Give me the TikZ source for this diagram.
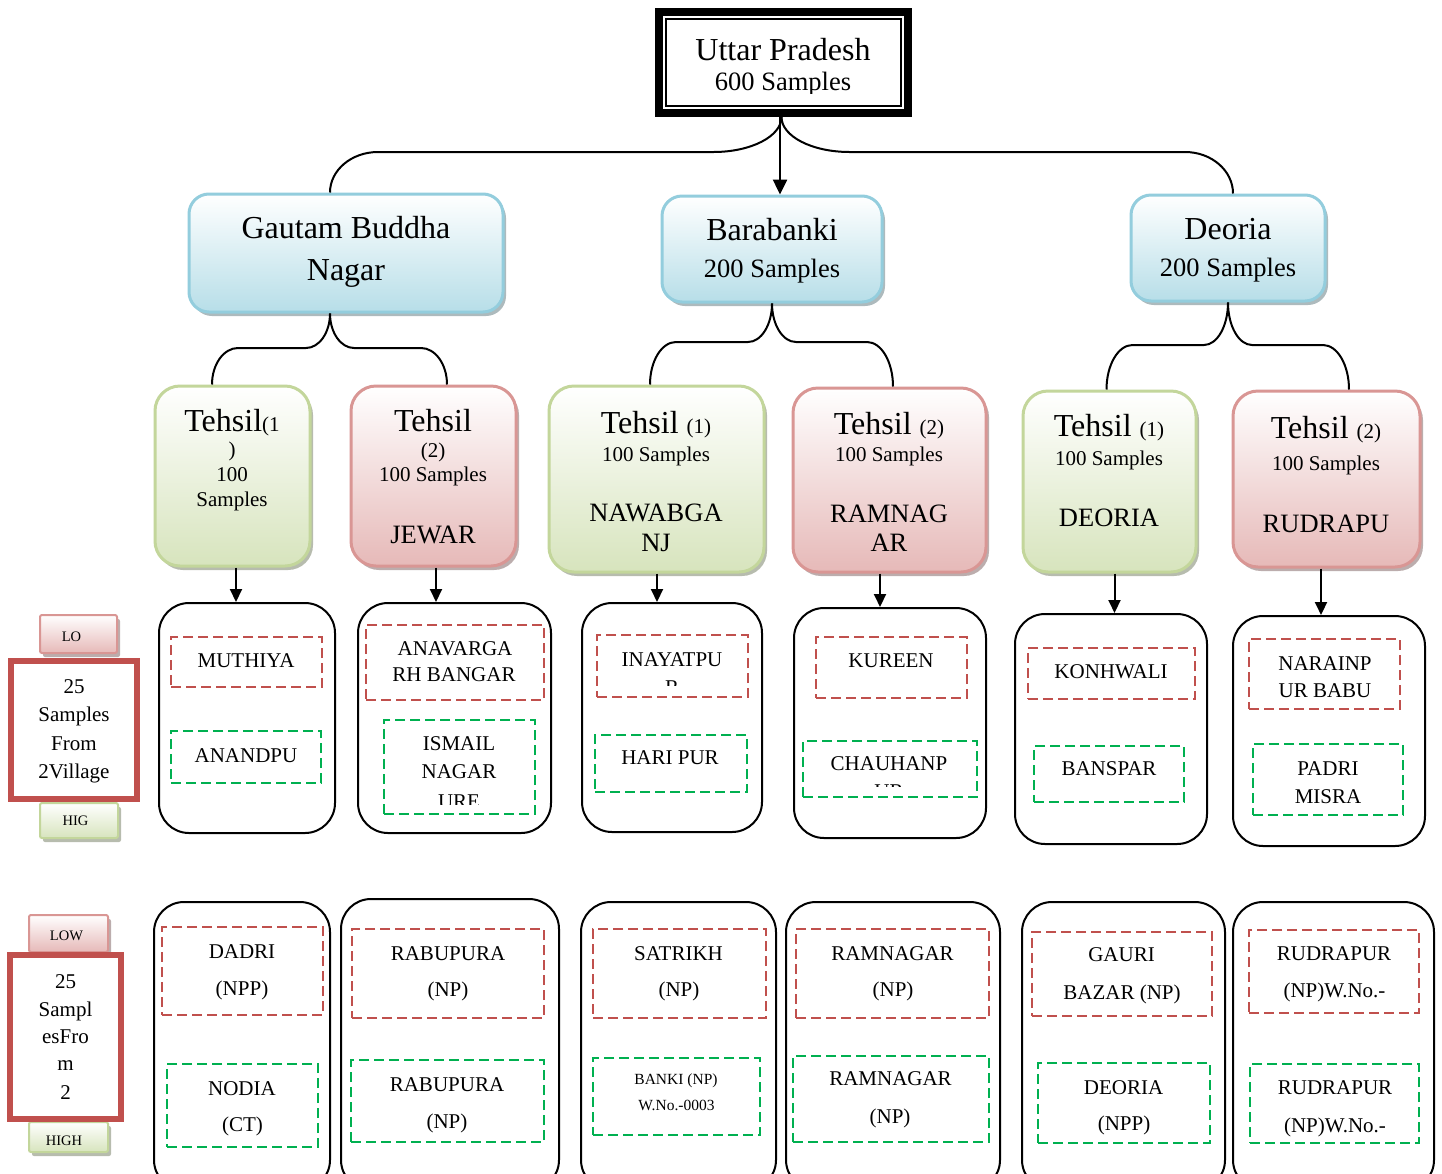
\documentclass[tikz,border=0pt]{standalone}
\usepackage{fontspec}
\setmainfont{Liberation Serif}
\usetikzlibrary{calc,shadows,arrows.meta}
\newcommand\fsBig{\fontsize{32}{36}\selectfont}
\newcommand\fsMid{\fontsize{26.5}{30}\selectfont}
\newcommand\fsSm{\fontsize{21}{25}\selectfont}
\newcommand\fsBk{\fontsize{15.5}{18}\selectfont}
\newcommand\fsXs{\fontsize{14.5}{17}\selectfont}
\definecolor{blbd}{HTML}{93CDDD}
\definecolor{blfill}{HTML}{B7DEE8}
\definecolor{grbd}{HTML}{C3D69B}
\definecolor{grfill}{HTML}{D7E4BD}
\definecolor{rdbd}{HTML}{D99694}
\definecolor{rdfill}{HTML}{E6B9B8}
\definecolor{rdash}{HTML}{C0504D}
\definecolor{gdash}{HTML}{00B050}
\definecolor{frame}{HTML}{C0504D}
\newcommand\mkbox[6]{\node[#2, minimum width={#5-#3}, minimum height={#6-#4}] (#1) at ({(#3+#5)/2},{(#4+#6)/2}) {};}
\newcommand\mktext[5]{\node[txt,font=#2] (#1) at (#3,#4) {#5};}
\newcommand\brkt[5]{%
  \coordinate (bkCa) at (#1 |- #3);
  \coordinate (bkEa) at ($(bkCa)+(#4,0)$);
  \coordinate (bkCb) at (#2 |- #3);
  \coordinate (bkSb) at ($(bkCb)+(#5,0)$);
  \draw[brk] (#1) .. controls ($(#1)!0.552!(bkCa)$) and ($(bkEa)!0.552!(bkCa)$) .. (bkEa)
     -- (bkSb) .. controls ($(bkSb)!0.552!(bkCb)$) and ($(#2)!0.552!(bkCb)$) .. (#2);}
\begin{document}
\begin{tikzpicture}[x=1pt,y=-1pt,
  txt/.style={anchor=base, inner sep=0pt, outer sep=0pt},
  topo/.style={draw=black, line width=8pt, fill=white},
  topi/.style={draw=black, line width=2pt},
  blk/.style={draw=black, line width=2pt, rounded corners=30pt, fill=white},
  rd/.style={draw=rdash, line width=2.8pt, dash pattern=on 10pt off 5pt},
  gd/.style={draw=gdash, line width=2.8pt, dash pattern=on 10pt off 5pt},
  blbox/.style={draw=blbd, line width=3pt, rounded corners=20pt, top color=white, bottom color=blfill,
     drop shadow={shadow xshift=3pt, shadow yshift=-4pt, fill=blbd!50!black, opacity=0.45}},
  grbox/.style={draw=grbd, line width=3pt, rounded corners=25pt, top color=white, bottom color=grfill,
     drop shadow={shadow xshift=3pt, shadow yshift=-4pt, fill=grbd!50!black, opacity=0.45}},
  rdbox/.style={draw=rdbd, line width=3pt, rounded corners=25pt, top color=white, bottom color=rdfill,
     drop shadow={shadow xshift=3pt, shadow yshift=-4pt, fill=rdbd!50!black, opacity=0.45}},
  lgr/.style={draw=grbd, line width=2pt, rounded corners=2pt, top color=white, bottom color=grfill,
     drop shadow={shadow xshift=3pt, shadow yshift=-4pt, fill=grbd!50!black, opacity=0.45}},
  lrd/.style={draw=rdbd, line width=2pt, rounded corners=2pt, top color=white, bottom color=rdfill,
     drop shadow={shadow xshift=3pt, shadow yshift=-4pt, fill=rdbd!50!black, opacity=0.45}},
  frm/.style={draw=frame, line width=6.5pt, fill=white},
  brk/.style={draw=black, line width=2pt},
  arr/.style={draw=black, line width=2pt, -{Triangle[length=13pt,width=12pt]}}
]
\path[use as bounding box, fill=white] (0,0) rectangle (1442,1173);
\clip (0,0) rectangle (1442,1173);

% ---------- top ----------
\mkbox{top}{topo}{659}{12}{908}{113}
\mkbox{topin}{topi}{666}{19}{901}{106}
\mktext{ta1}{\fsBig}{783}{60}{Uttar Pradesh}
\begin{scope}
\clip (666,19) rectangle (901,93.5);
\mktext{ta2}{\fsMid}{783}{90.7}{600 Samples}
\end{scope}

% ---------- districts ----------
\mkbox{gbn}{blbox}{189}{194}{503}{312}
\mkbox{bar}{blbox}{662}{196}{882}{302}
\mkbox{deo}{blbox}{1131}{195}{1325}{301}
\mktext{tb1}{\fsBig}{346}{238.3}{Gautam Buddha}
\mktext{tb2}{\fsBig}{346}{280}{Nagar}
\mktext{tb3}{\fsBig}{772}{240}{Barabanki}
\mktext{tb4}{\fsMid}{772}{277.5}{200 Samples}
\mktext{tb5}{\fsBig}{1228}{239}{Deoria}
\mktext{tb6}{\fsMid}{1228}{276}{200 Samples}

% ---------- tehsils ----------
\mkbox{t1}{grbox}{155}{386}{310}{566}
\mkbox{t2}{rdbox}{351}{386}{516}{566}
\mkbox{t3}{grbox}{549}{386}{764}{572}
\mkbox{t4}{rdbox}{793}{388}{986}{572}
\mkbox{t5}{grbox}{1023}{391}{1196}{572}
\mkbox{t6}{rdbox}{1233}{391}{1420}{567}

\mktext{tc1}{\fsBig}{232}{431.7}{Tehsil{\fsSm(1}}
\mktext{tc2}{\fsSm}{232}{456}{)}
\mktext{tc3}{\fsSm}{232}{481.7}{100}
\mktext{tc4}{\fsSm}{232}{506.7}{Samples}

\mktext{td1}{\fsBig}{433}{431.7}{Tehsil}
\mktext{td2}{\fsSm}{433}{457}{(2)}
\mktext{td3}{\fsSm}{433}{481.7}{100 Samples}
\mktext{td4}{\fsMid}{433}{543}{JEWAR}

\mktext{te1}{\fsBig}{656}{433.3}{Tehsil {\fsSm(1)}}
\mktext{te2}{\fsSm}{656}{461}{100 Samples}
\mktext{te3}{\fsMid}{656}{521.7}{NAWABGA}
\mktext{te4}{\fsMid}{656}{551.7}{NJ}

\mktext{tf1}{\fsBig}{889}{434.3}{Tehsil {\fsSm(2)}}
\mktext{tf2}{\fsSm}{889}{461.7}{100 Samples}
\mktext{tf3}{\fsMid}{889}{522.7}{RAMNAG}
\mktext{tf4}{\fsMid}{889}{551.7}{AR}

\mktext{tg1}{\fsBig}{1109}{436.7}{Tehsil {\fsSm(1)}}
\mktext{tg2}{\fsSm}{1109}{465}{100 Samples}
\mktext{tg3}{\fsMid}{1109}{526.7}{DEORIA}

\mktext{th1}{\fsBig}{1326}{438.3}{Tehsil {\fsSm(2)}}
\mktext{th2}{\fsSm}{1326}{470.7}{100 Samples}
\mktext{th3}{\fsMid}{1326}{532.7}{RUDRAPU}

% ---------- connectors top ----------
\coordinate (h0) at (0,152);
\coordinate (gIn) at ($(gbn.north)+(-16,0)$);
\coordinate (dIn) at ($(deo.north)+(5,0)$);
\coordinate (tOut) at ($(top.south)+(-2,0)$);
\brkt{tOut}{gIn}{h0}{-68}{48}
\brkt{tOut}{dIn}{h0}{68}{-48}
\coordinate (tArr) at ($(top.south)+(-3.5,0)$);
\draw[arr, line width=2.5pt, -{Triangle[length=15pt,width=14pt]}] (tArr) -- (tArr |- bar.north);

% ---------- connectors level 2 ----------
\coordinate (h1) at (0,348);
\coordinate (h2) at (0,342);
\coordinate (h3) at (0,345);
\coordinate (gOut) at ($(gbn.south)+(-16,0)$);
\coordinate (bOut) at (bar.south);
\coordinate (dOut) at (deo.south);
\coordinate (c1) at ($(t1.north)+(-20.5,0)$);
\coordinate (c2) at ($(t2.north)+(13.5,0)$);
\coordinate (c3) at ($(t3.north)+(-6.5,0)$);
\coordinate (c4) at ($(t4.north)+(3.5,0)$);
\coordinate (c5) at ($(t5.north)+(-3,0)$);
\coordinate (c6) at ($(t6.north)+(22.5,0)$);
\brkt{gOut}{c1}{h1}{-24}{26}
\brkt{gOut}{c2}{h1}{24}{-26}
\brkt{bOut}{c3}{h2}{-24}{26}
\brkt{bOut}{c4}{h2}{24}{-26}
\brkt{dOut}{c5}{h3}{-24}{26}
\brkt{dOut}{c6}{h3}{24}{-26}

% ---------- village boxes row 1 ----------
\mkbox{v1}{blk}{159}{603}{335}{833}
\mkbox{v2}{blk}{358}{603}{551}{833}
\mkbox{v3}{blk}{582}{603}{762}{832}
\mkbox{v4}{blk}{794}{608}{986}{838}
\mkbox{v5}{blk}{1015}{614}{1207}{844}
\mkbox{v6}{blk}{1233}{616}{1425}{846}

\coordinate (a1) at ($(t1.south)+(3.5,0)$);
\coordinate (a2) at ($(t2.south)+(2.5,0)$);
\coordinate (a3) at ($(t3.south)+(0.5,0)$);
\coordinate (a4) at ($(t4.south)+(-9.5,0)$);
\coordinate (a5) at ($(t5.south)+(5,0)$);
\coordinate (a6) at ($(t6.south)+(-5.5,0)$);
\draw[arr] (a1) -- (a1 |- v1.north);
\draw[arr] (a2) -- (a2 |- v2.north);
\draw[arr] (a3) -- (a3 |- v3.north);
\draw[arr] (a4) -- (a4 |- v4.north);
\draw[arr] (a5) -- (a5 |- v5.north);
\draw[arr] (a6) -- (a6 |- v6.north);

\mkbox{r1}{rd}{171}{637}{322}{687}
\mkbox{g1}{gd}{171}{731}{321}{783}
\mkbox{r2}{rd}{366}{625}{544}{700}
\mkbox{g2}{gd}{384}{720}{535}{814}
\mkbox{r3}{rd}{597}{635}{748}{697}
\mkbox{g3}{gd}{595}{735}{747}{792}
\mkbox{r4}{rd}{816}{637}{967}{698}
\mkbox{g4}{gd}{803}{741}{977}{797}
\mkbox{r5}{rd}{1028}{648}{1195}{699}
\mkbox{g5}{gd}{1034}{746}{1184}{802}
\mkbox{r6}{rd}{1249}{639}{1400}{709}
\mkbox{g6}{gd}{1253}{744}{1403}{815}

\mktext{x1}{\fsSm}{246}{667}{MUTHIYA}
\mktext{x2}{\fsSm}{246}{762}{ANANDPU}
\mktext{x3}{\fsSm}{455}{655}{ANAVARGA}
\mktext{x4}{\fsSm}{454}{681.7}{RH BANGAR}
\mktext{x5}{\fsSm}{459}{750}{ISMAIL}
\mktext{x6}{\fsSm}{459}{778.3}{NAGAR}
\begin{scope}
\clip (384,720) rectangle (535,804);
\mktext{x7}{\fsSm}{459}{808}{URE}
\end{scope}
\mktext{x8}{\fsSm}{672}{666.7}{INAYATPU}
\begin{scope}
\clip (597,635) rectangle (748,685);
\mktext{x9}{\fsSm}{672}{694}{R}
\end{scope}
\mktext{x10}{\fsSm}{670}{764.3}{HARI PUR}
\mktext{x11}{\fsSm}{891}{667.7}{KUREEN}
\mktext{x12}{\fsSm}{889}{770.7}{CHAUHANP}
\begin{scope}
\clip (803,741) rectangle (977,786);
\mktext{x13}{\fsSm}{889}{798}{UR}
\end{scope}
\mktext{x14}{\fsSm}{1111}{678.3}{KONHWALI}
\mktext{x15}{\fsSm}{1109}{775.7}{BANSPAR}
\mktext{x16}{\fsSm}{1325}{670}{NARAINP}
\mktext{x17}{\fsSm}{1325}{697}{UR BABU}
\mktext{x18}{\fsSm}{1328}{775}{PADRI}
\mktext{x19}{\fsSm}{1328}{803}{MISRA}

% ---------- village boxes row 2 ----------
\mkbox{w1}{blk}{154}{902}{330}{1190}
\mkbox{w2}{blk}{341}{899}{559}{1190}
\mkbox{w3}{blk}{581}{902}{776}{1190}
\mkbox{w4}{blk}{786}{902}{1000}{1190}
\mkbox{w5}{blk}{1022}{902}{1225}{1190}
\mkbox{w6}{blk}{1233}{902}{1434}{1190}

\mkbox{q1}{rd}{162}{927}{323}{1015}
\mkbox{s1}{gd}{167}{1064}{318}{1147}
\mkbox{q2}{rd}{352}{929}{544}{1018}
\mkbox{s2}{gd}{351}{1060}{544}{1142}
\mkbox{q3}{rd}{593}{929}{766}{1018}
\mkbox{s3}{gd}{593}{1058}{760}{1135}
\mkbox{q4}{rd}{796}{929}{989}{1018}
\mkbox{s4}{gd}{793}{1056}{989}{1142}
\mkbox{q5}{rd}{1032}{932}{1212}{1016}
\mkbox{s5}{gd}{1038}{1063}{1210}{1143}
\mkbox{q6}{rd}{1249}{930}{1419}{1013}
\mkbox{s6}{gd}{1250}{1064}{1419}{1143}

\mktext{y1}{\fsSm}{242}{958.3}{DADRI}
\mktext{y2}{\fsSm}{242}{995}{(NPP)}
\mktext{y3}{\fsSm}{242}{1095}{NODIA}
\mktext{y4}{\fsSm}{242.5}{1131.7}{(CT)}
\mktext{y5}{\fsSm}{448}{960}{RABUPURA}
\mktext{y6}{\fsSm}{448}{996.7}{(NP)}
\mktext{y7}{\fsSm}{447}{1091.7}{RABUPURA}
\mktext{y8}{\fsSm}{447}{1128.3}{(NP)}
\mktext{y9}{\fsSm}{678.5}{960}{SATRIKH}
\mktext{y10}{\fsSm}{679}{996.7}{(NP)}
\mktext{y11}{\fsBk}{676}{1084.3}{BANKI (NP)}
\mktext{y12}{\fsBk}{676.5}{1110}{W.No.-0003}
\mktext{y13}{\fsSm}{892.5}{960}{RAMNAGAR}
\mktext{y14}{\fsSm}{893}{996.7}{(NP)}
\mktext{y15}{\fsSm}{890.5}{1085.7}{RAMNAGAR}
\mktext{y16}{\fsSm}{890}{1123.3}{(NP)}
\mktext{y17}{\fsSm}{1121.5}{961.7}{GAURI}
\mktext{y18}{\fsSm}{1122}{999}{BAZAR (NP)}
\mktext{y19}{\fsSm}{1123.5}{1094}{DEORIA}
\mktext{y20}{\fsSm}{1124}{1130}{(NPP)}
\mktext{y21}{\fsSm}{1334}{960.7}{RUDRAPUR}
\mktext{y22}{\fsSm}{1334.5}{997.3}{(NP)W.No.-}
\mktext{y23}{\fsSm}{1335}{1094.3}{RUDRAPUR}
\mktext{y24}{\fsSm}{1335}{1132.3}{(NP)W.No.-}

% ---------- legends ----------
\mkbox{lo1}{lrd}{40}{615}{117}{653}
\mkbox{hi1}{lgr}{40}{803}{118}{838}
\mkbox{fr1}{frm}{11}{661}{137}{799}
\mktext{z1}{\fsXs}{71.5}{641.7}{LO}
\mktext{z2}{\fsXs}{75.5}{825}{HIG}
\mktext{z3}{\fsSm}{74}{693.3}{25}
\mktext{z4}{\fsSm}{74}{721.7}{Samples}
\mktext{z5}{\fsSm}{74}{750}{From}
\mktext{z6}{\fsSm}{74}{778.3}{2Village}

\mkbox{lo2}{lrd}{29}{915}{108}{952}
\mkbox{hi2}{lgr}{29}{1122}{108}{1152}
\mkbox{fr2}{frm}{10}{955}{121}{1119}
\mktext{z7}{\fsXs}{66.5}{940}{LOW}
\mktext{z8}{\fsXs}{64}{1145}{HIGH}
\mktext{z9}{\fsSm}{65.5}{988.3}{25}
\mktext{z10}{\fsSm}{65.5}{1016}{Sampl}
\mktext{z11}{\fsSm}{65.5}{1043.3}{esFro}
\mktext{z12}{\fsSm}{65.5}{1070.7}{m}
\mktext{z13}{\fsSm}{65.5}{1099}{2}
\end{tikzpicture}
\end{document}
